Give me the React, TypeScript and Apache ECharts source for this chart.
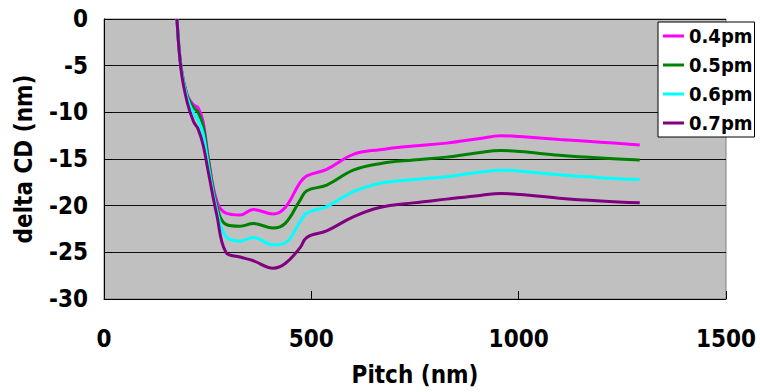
import React, { useEffect, useRef } from "react";
import * as echarts from "echarts";

const pitch = [176, 186, 201, 216, 227, 239, 252, 272, 294, 328, 360, 408, 437, 473, 489, 537, 601, 665, 746, 826, 907, 957, 1003, 1098, 1198, 1292];
const s04 = [0, -5.2, -8.2, -9.2, -9.5, -11.0, -15.0, -19.5, -20.8, -21.0, -20.4, -20.9, -20.2, -17.5, -16.8, -16.1, -14.5, -14.0, -13.6, -13.3, -12.8, -12.5, -12.6, -12.9, -13.2, -13.5];
const s05 = [0, -5.2, -8.3, -9.5, -10.0, -11.5, -15.2, -20.0, -22.0, -22.2, -21.9, -22.4, -21.9, -19.4, -18.4, -17.8, -16.2, -15.5, -15.1, -14.8, -14.3, -14.1, -14.2, -14.6, -14.9, -15.1];
const s06 = [0, -5.3, -8.5, -10.1, -10.8, -12.3, -15.8, -20.5, -23.3, -23.8, -23.4, -24.2, -24.0, -21.7, -20.8, -20.1, -18.5, -17.6, -17.2, -16.9, -16.4, -16.2, -16.3, -16.7, -17.0, -17.2];
const s07 = [0, -5.5, -9.0, -11.0, -11.8, -13.5, -16.5, -21.0, -25.0, -25.5, -25.9, -26.7, -26.2, -24.5, -23.4, -22.7, -21.2, -20.2, -19.7, -19.3, -18.9, -18.7, -18.8, -19.2, -19.5, -19.7];
const seriesNames = ["0.4pm", "0.5pm", "0.6pm", "0.7pm"];
const seriesColors = ["#FF00FF", "#008000", "#00FFFF", "#800080"];
const seriesValues = [s04, s05, s06, s07];

const FONT = "'DejaVu Sans Condensed', 'DejaVu Sans', sans-serif";

export default function App() {
  const ref = useRef<HTMLDivElement>(null);
  useEffect(() => {
    if (!ref.current) return;
    const chart = echarts.init(ref.current, null, { renderer: "svg" });
    chart.setOption({
      animation: false,
      backgroundColor: "#ffffff",
      grid: {
        left: 104,
        right: 34,
        top: 19,
        bottom: 88,
        show: true,
        backgroundColor: "#C0C0C0",
        borderColor: "#808080",
        borderWidth: 1,
      },
      legend: {
        orient: "vertical",
        left: 658,
        top: 22,
        padding: [4, 2, 4, 5],
        itemGap: 9,
        itemWidth: 21,
        itemHeight: 3,
        icon: "rect",
        backgroundColor: "#ffffff",
        borderColor: "#000000",
        borderWidth: 1,
        textStyle: { fontFamily: FONT, fontWeight: "bold", fontSize: 20, lineHeight: 20, color: "#000" },
        data: seriesNames,
      },
      xAxis: {
        type: "value",
        min: 0,
        max: 1500,
        interval: 500,
        name: "Pitch (nm)",
        nameLocation: "middle",
        nameGap: 64,
        nameTextStyle: { fontFamily: FONT, fontWeight: "bold", fontSize: 24, color: "#000" },
        axisLine: { show: true, onZero: false, lineStyle: { color: "#000", width: 1 } },
        axisTick: { show: true, inside: true, length: 8, lineStyle: { color: "#000" } },
        axisLabel: {
          margin: 28,
          fontFamily: FONT,
          fontWeight: "bold",
          fontSize: 24,
          color: "#000",
          formatter: (v: number) => String(v),
        },
        splitLine: { show: false },
      },
      yAxis: {
        type: "value",
        min: -30,
        max: 0,
        interval: 5,
        name: "delta CD (nm)",
        nameLocation: "middle",
        nameGap: 68,
        nameTextStyle: { fontFamily: FONT, fontWeight: "bold", fontSize: 24, color: "#000" },
        axisLine: { show: true, onZero: false, lineStyle: { color: "#000", width: 1 } },
        axisTick: { show: true, inside: true, length: 8, lineStyle: { color: "#000" } },
        axisLabel: {
          margin: 16,
          fontFamily: FONT,
          fontWeight: "bold",
          fontSize: 24,
          color: "#000",
          formatter: (v: number) => String(v),
        },
        splitLine: { show: true, lineStyle: { color: "#111", width: 1 } },
      },
      series: seriesNames.map((name, i) => ({
        name,
        type: "line",
        smooth: 0.4,
        symbol: "none",
        clip: true,
        color: seriesColors[i],
        lineStyle: { width: 3, color: seriesColors[i] },
        data: pitch.map((x, j) => [x, seriesValues[i][j]]),
      })),
    });
    return () => chart.dispose();
  }, []);
  return <div ref={ref} style={{ position: "absolute", left: 0, top: 0, width: 760, height: 392 }} />;
}
